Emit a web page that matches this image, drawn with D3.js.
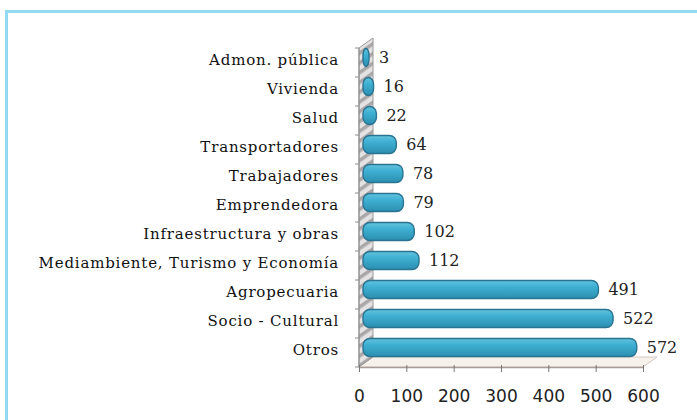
<!DOCTYPE html>
<html>
<head>
<meta charset="utf-8">
<script src="https://cdn.jsdelivr.net/npm/d3@7/dist/d3.min.js"></script>
<style>
  html, body { margin: 0; padding: 0; background: #fff; }
  svg { display: block; }
  .cat { font-family: "DejaVu Serif", serif; font-size: 15px; letter-spacing: 0.8px; fill: #111; }
  .val { font-family: "DejaVu Serif", serif; font-size: 16px; fill: #222; }
  .tick text { font-family: "DejaVu Sans", sans-serif; font-size: 17px; fill: #222; }
</style>
</head>
<body>
<svg id="chart" width="697" height="420"></svg>
<script>
// Categories from top to bottom and their counts
const categories = [
  "Admon. pública", "Vivienda", "Salud", "Transportadores", "Trabajadores",
  "Emprendedora", "Infraestructura y obras", "Mediambiente, Turismo y Economía",
  "Agropecuaria", "Socio - Cultural", "Otros"
];
const values = [3, 16, 22, 64, 78, 79, 102, 112, 491, 522, 572];
const xTicks = [0, 100, 200, 300, 400, 500, 600];

(function () {
const svg = d3.select("#chart");
const W = 697, H = 420;

// outer frame
svg.append("rect").attr("x", 6.5).attr("y", 11.5).attr("width", W + 10).attr("height", H + 10)
  .attr("fill", "#fff").attr("stroke", "#93d9f0").attr("stroke-width", 3);

const plotLeft = 359, plotRight = 643, plotTop = 48, plotBottom = 367;
const depthX = 14, depthY = -10;

const x = d3.scaleLinear().domain([0, 600]).range([plotLeft, plotRight]);
const y = d3.scaleBand().domain(categories).range([plotTop, plotBottom]).paddingInner(0.38).paddingOuter(0.19);
const yb = d3.scaleBand().domain(categories).range([plotTop, plotBottom]);

// diagonal stripes for the side wall
const defs = svg.append("defs");
const pat = defs.append("pattern").attr("id", "stripes").attr("patternUnits", "userSpaceOnUse")
  .attr("width", 8).attr("height", 8).attr("patternTransform", "rotate(-35)");
pat.append("rect").attr("width", 8).attr("height", 8).attr("fill", "#e4e2e2");
pat.append("rect").attr("width", 8).attr("height", 3.5).attr("fill", "#a9a7a8");

const grad = defs.append("linearGradient").attr("id", "barGrad").attr("x1", 0).attr("y1", 0).attr("x2", 0).attr("y2", 1);
grad.append("stop").attr("offset", "0%").attr("stop-color", "#62c3dd");
grad.append("stop").attr("offset", "35%").attr("stop-color", "#3fb0d2");
grad.append("stop").attr("offset", "100%").attr("stop-color", "#2b8fb1");

// floor
svg.append("polygon")
  .attr("points", [[plotLeft, plotBottom], [plotRight, plotBottom], [plotRight + depthX, plotBottom + depthY], [plotLeft + depthX, plotBottom + depthY]].join(" "))
  .attr("fill", "#f7f1ec").attr("stroke", "#d6c9c2").attr("stroke-width", 1);

// side wall
svg.append("polygon")
  .attr("points", [[plotLeft, plotBottom], [plotLeft + depthX, plotBottom + depthY], [plotLeft + depthX, plotTop + depthY], [plotLeft, plotTop]].join(" "))
  .attr("fill", "url(#stripes)").attr("stroke", "#9a9a9a").attr("stroke-width", 1);

// bars
const barG = svg.append("g");
categories.forEach((c, i) => {
  const v = values[i];
  const bx = x(0) + depthX / 2 - 3;
  const bw = Math.max(x(v) - x(0) + 3, 6);
  const by = y(c) + depthY / 2;
  const bh = y.bandwidth();
  barG.append("rect")
    .attr("x", bx).attr("y", by).attr("width", bw).attr("height", bh)
    .attr("rx", Math.min(bh / 2.6, bw / 2)).attr("ry", bh / 2.6)
    .attr("fill", "url(#barGrad)").attr("stroke", "#2a7391").attr("stroke-width", 1.4);
  // value label
  svg.append("text").attr("class", "val")
    .attr("x", bx + bw + 10).attr("y", by + bh / 2 + 1)
    .attr("dominant-baseline", "middle")
    .text(v);
});

// left axis with ticks at category boundaries
const axisG = svg.append("g").attr("stroke", "#8c8c8c").attr("stroke-width", 1);
axisG.append("line").attr("x1", plotLeft).attr("x2", plotLeft).attr("y1", plotTop).attr("y2", plotBottom);
categories.forEach(c => {
  axisG.append("line").attr("x1", plotLeft - 4).attr("x2", plotLeft).attr("y1", yb(c)).attr("y2", yb(c));
});
axisG.append("line").attr("x1", plotLeft - 4).attr("x2", plotLeft).attr("y1", plotBottom).attr("y2", plotBottom);

// category labels
categories.forEach(c => {
  svg.append("text").attr("class", "cat")
    .attr("x", 339).attr("y", yb(c) + yb.bandwidth() / 2 - 2)
    .attr("text-anchor", "end").attr("dominant-baseline", "middle")
    .text(c);
});

// bottom axis
const bottomAxis = d3.axisBottom(x).tickValues(xTicks).tickSize(7).tickSizeOuter(0).tickPadding(16);
const axB = svg.append("g").attr("transform", `translate(0,${plotBottom})`).call(bottomAxis)
  .attr("font-family", null).attr("font-size", null);
axB.select(".domain").attr("stroke", "#a89c98").attr("stroke-width", 1.5);
axB.selectAll(".tick line").attr("stroke", "#777").attr("transform", "translate(0,-2)");
axB.selectAll(".tick text").attr("fill", "#222");
})();
</script>
</body>
</html>
